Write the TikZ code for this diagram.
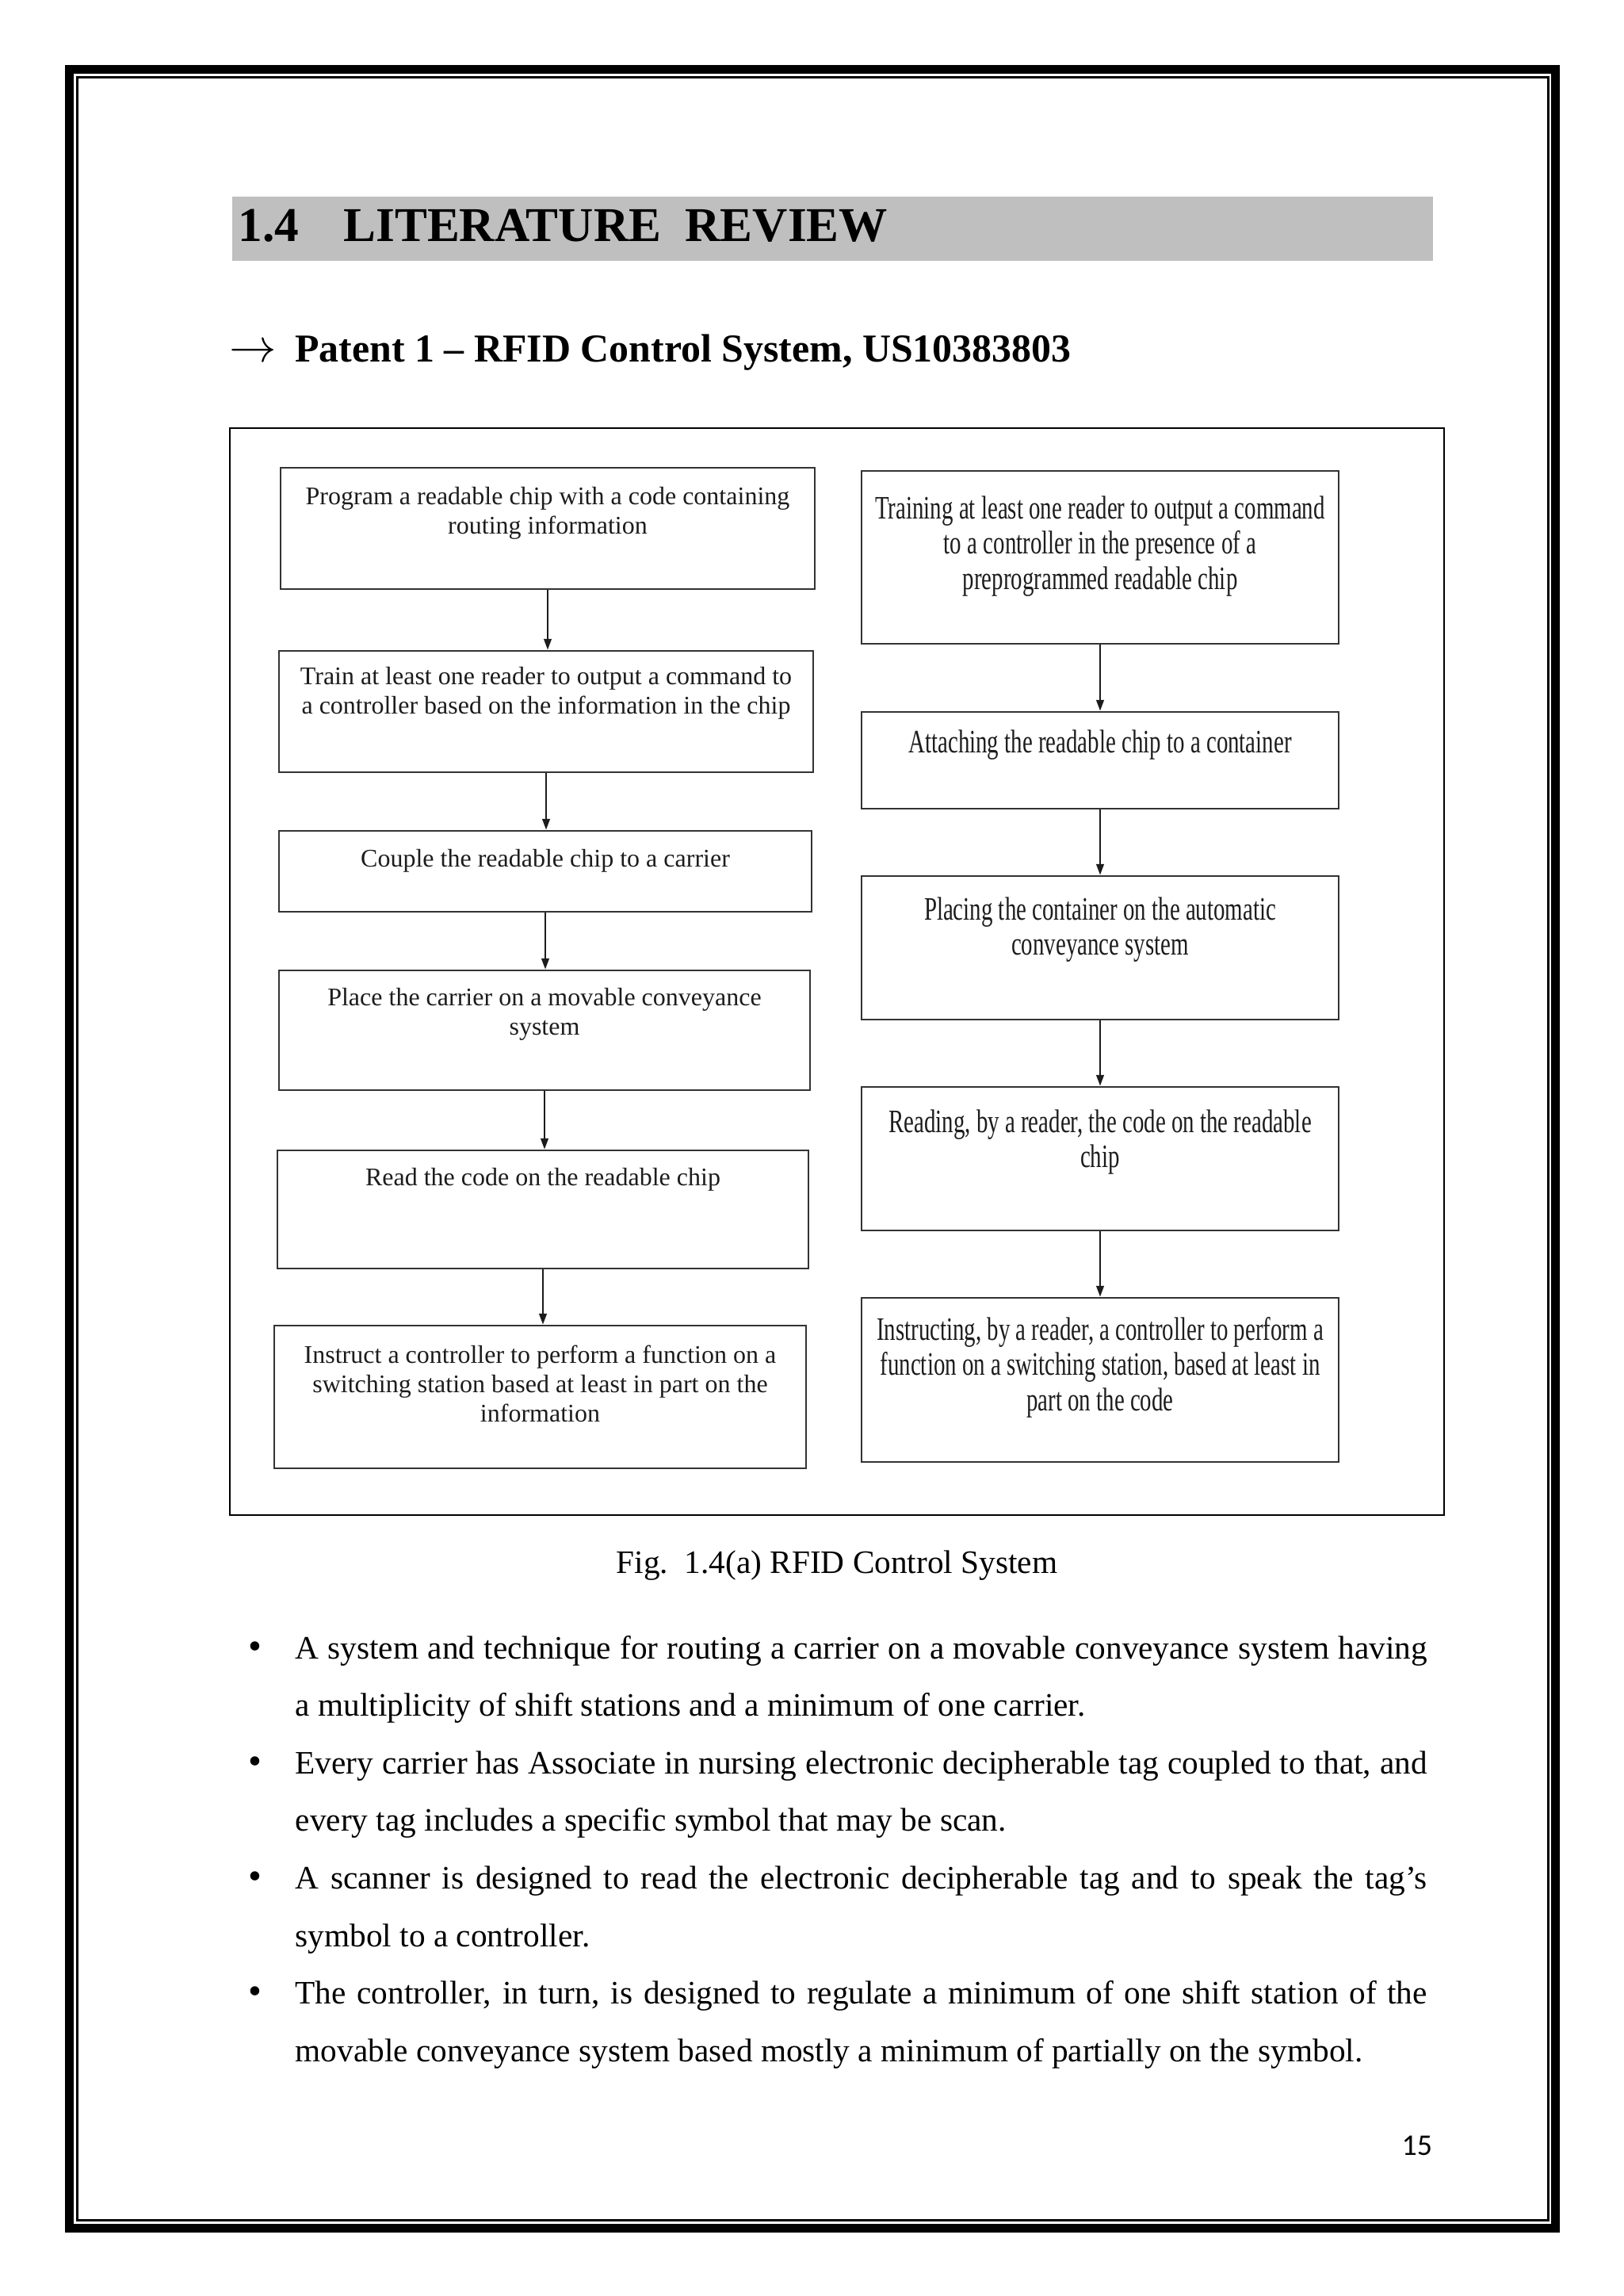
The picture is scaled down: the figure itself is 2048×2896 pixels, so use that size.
\documentclass[tikz,border=0pt]{standalone}
\usepackage{fontspec}
\setmainfont{Liberation Serif}
\newfontfamily\condfont[FakeStretch=0.70]{Liberation Serif}
\newfontfamily\pagefont{Carlito}
\usetikzlibrary{arrows.meta}
\def\upx{0.29053pt}
\definecolor{scanink}{HTML}{1C1C1C}
\definecolor{boxline}{HTML}{333333}
\definecolor{headgray}{HTML}{BFBFBF}
\begin{document}
\begin{tikzpicture}[x=0.29053pt,y=-0.29053pt,
  flowbox/.style={draw=boxline, line width=0.8pt, inner sep=0pt},
  ltxt/.style={anchor=north, inner sep=0pt, align=center, text=scanink, font=\fontsize{9.3}{10.7}\selectfont},
  rtxt/.style={anchor=north, inner sep=0pt, align=center, text=scanink, font=\condfont\fontsize{12}{13}\selectfont},
  flow/.style={draw=scanink, line width=0.6pt, -{Triangle[length=4pt,width=2.8pt]}},
  bodyline/.style={anchor=base west, inner sep=0pt, font=\fontsize{12}{14}\selectfont},
  bulletnode/.style={anchor=base, inner sep=0pt, font=\fontsize{14}{16}\selectfont}
]
\useasboundingbox (0,0) rectangle (2048,2896);
% page frame
\draw[line width=3.2pt] (87.5,87.5) rectangle (1962.5,2810.5);
\draw[line width=0.87pt] (97.5,97.5) rectangle (1953.5,2800.5);
% heading
\fill[headgray] (293,248) rectangle (1808,329);
\node[anchor=base west, inner sep=0pt, font=\bfseries\fontsize{17.8}{21}\selectfont] (head) at (300,305) {\makebox[38.6pt][l]{1.4}LITERATURE\ \ REVIEW};
\node[anchor=base west, inner sep=0pt, font=\bfseries\fontsize{14.5}{17}\selectfont] (pat) at (289,457) {\makebox[24pt][l]{\fontsize{19}{19}\selectfont$\rightarrow$}Patent 1 – RFID Control System, US10383803};
% figure frame
\draw[line width=0.85pt] (290,540) rectangle (1822,1911);
% left column
\node[flowbox, minimum width=674*\upx, minimum height=153*\upx] (L1) at (691,666.5) {};
\node[flowbox, minimum width=674*\upx, minimum height=153*\upx] (L2) at (689,897.5) {};
\node[flowbox, minimum width=672*\upx, minimum height=102*\upx] (L3) at (688,1099) {};
\node[flowbox, minimum width=670*\upx, minimum height=151*\upx] (L4) at (687,1299.5) {};
\node[flowbox, minimum width=670*\upx, minimum height=149*\upx] (L5) at (685,1525.5) {};
\node[flowbox, minimum width=671*\upx, minimum height=180*\upx] (L6) at (681.5,1762) {};
\node[ltxt] (L1t) at (691,610) {\strut Program a readable chip with a code containing\\routing information};
\node[ltxt] (L2t) at (689,837) {\strut Train at least one reader to output a command to\\a controller based on the information in the chip};
\node[ltxt] (L3t) at (688,1067) {\strut Couple the readable chip to a carrier};
\node[ltxt] (L4t) at (687,1242) {\strut Place the carrier on a movable conveyance\\system};
\node[ltxt] (L5t) at (685,1469) {\strut Read the code on the readable chip};
\node[ltxt] (L6t) at (681.5,1693) {\strut Instruct a controller to perform a function on a\\switching station based at least in part on the\\information};
\draw[flow] (L1.south) -- (L1.south |- L2.north);
\draw[flow] (L2.south) -- (L2.south |- L3.north);
\draw[flow] (L3.south) -- (L3.south |- L4.north);
\draw[flow] (L4.south) -- (L4.south |- L5.north);
\draw[flow] (L5.south) -- (L5.south |- L6.north);
% right column
\node[flowbox, minimum width=602*\upx, minimum height=218*\upx] (R1) at (1388,703) {};
\node[flowbox, minimum width=602*\upx, minimum height=122*\upx] (R2) at (1388,959) {};
\node[flowbox, minimum width=602*\upx, minimum height=181*\upx] (R3) at (1388,1195.5) {};
\node[flowbox, minimum width=602*\upx, minimum height=181*\upx] (R4) at (1388,1461.5) {};
\node[flowbox, minimum width=602*\upx, minimum height=207*\upx] (R5) at (1388,1740.5) {};
\node[rtxt] (R1t) at (1388,622) {\strut Training at least one reader to output a command\\to a controller in the presence of a\\preprogrammed readable chip};
\node[rtxt] (R2t) at (1388,917) {\strut Attaching the readable chip to a container};
\node[rtxt] (R3t) at (1388,1128) {\strut Placing the container on the automatic\\conveyance system};
\node[rtxt] (R4t) at (1388,1396) {\strut Reading, by a reader, the code on the readable\\chip};
\node[rtxt] (R5t) at (1388,1658) {\strut Instructing, by a reader, a controller to perform a\\function on a switching station, based at least in\\part on the code};
\draw[flow] (R1.south) -- (R2.north);
\draw[flow] (R2.south) -- (R3.north);
\draw[flow] (R3.south) -- (R4.north);
\draw[flow] (R4.south) -- (R5.north);
% caption
\node[anchor=base, inner sep=0pt, font=\fontsize{12}{14}\selectfont] (cap) at (1056,1984) {Fig.\ \ 1.4(a) RFID Control System};
% bullets
\node[bulletnode] (b1) at (322,2092) {\textbullet};
\node[bulletnode] (b2) at (322,2237.2) {\textbullet};
\node[bulletnode] (b3) at (322,2382.4) {\textbullet};
\node[bulletnode] (b4) at (322,2527.6) {\textbullet};
\node[bodyline] (t1) at (372,2092) {\makebox[414.9pt][s]{A system and technique for routing a carrier on a movable conveyance system having}};
\node[bodyline] (t2) at (372,2164.6) {a multiplicity\ of shift\ stations\ and a minimum\ of one carrier.};
\node[bodyline] (t3) at (372,2237.2) {\makebox[414.9pt][s]{Every carrier has Associate in nursing electronic decipherable tag coupled to that, and}};
\node[bodyline] (t4) at (372,2309.8) {every tag includes\ a specific\ symbol\ that may be scan.};
\node[bodyline] (t5) at (372,2382.4) {\makebox[414.9pt][s]{A scanner is designed to read the electronic decipherable tag and to speak the tag's}};
\node[bodyline] (t6) at (372,2455) {symbol\ to a controller.};
\node[bodyline] (t7) at (372,2527.6) {\makebox[414.9pt][s]{The controller, in turn, is designed to regulate a minimum of one shift station of the}};
\node[bodyline] (t8) at (372,2600.2) {movable\ conveyance\ system based mostly a minimum\ of partially\ on the symbol.};
% page number
\node[anchor=base west, inner sep=0pt, font=\pagefont\fontsize{11}{13}\selectfont] (pg) at (1768,2718) {15};
\end{tikzpicture}
\end{document}
